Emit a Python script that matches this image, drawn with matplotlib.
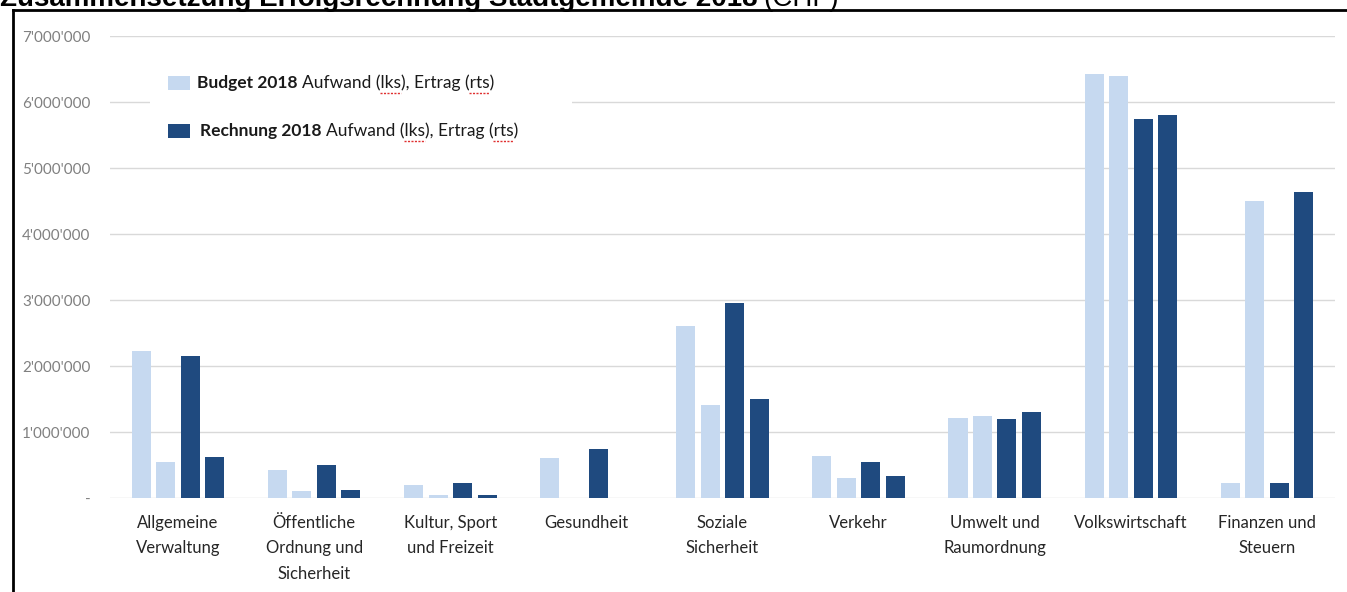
import numpy as np
import matplotlib
matplotlib.use("Agg")
from matplotlib import pyplot
from matplotlib.lines import Line2D
from matplotlib.patches import Rectangle

# categories and values (CHF)
categories = [
    "Allgemeine\nVerwaltung",
    "Öffentliche\nOrdnung und\nSicherheit",
    "Kultur, Sport\nund Freizeit",
    "Gesundheit",
    "Soziale\nSicherheit",
    "Verkehr",
    "Umwelt und\nRaumordnung",
    "Volkswirtschaft",
    "Finanzen und\nSteuern",
]
budget_aufwand = [2230000, 430000, 200000, 610000, 2600000, 640000, 1210000, 6430000, 220000]
budget_ertrag = [550000, 100000, 40000, 0, 1410000, 310000, 1250000, 6390000, 4500000]
rechnung_aufwand = [2150000, 500000, 230000, 750000, 2960000, 550000, 1190000, 5740000, 230000]
rechnung_ertrag = [620000, 120000, 40000, 0, 1500000, 330000, 1310000, 5810000, 4630000]

light = "#C6D9F0"
dark = "#1F4A7F"
W, H = 1347, 592

pyplot.rcParams["font.family"] = ["Lato", "DejaVu Sans"]
fig = pyplot.figure(figsize=(W / 100, H / 100), dpi=100)
ax = fig.add_axes([110 / W, 1 - 498 / H, (1335 - 110) / W, (498 - 36) / H])

x = np.arange(len(categories))
bw = 0.14
step = 0.18
series = [(budget_aufwand, light), (budget_ertrag, light),
          (rechnung_aufwand, dark), (rechnung_ertrag, dark)]
for i, (vals, col) in enumerate(series):
    ax.bar(x + (i - 1.5) * step, vals, width=bw, color=col, zorder=3)

ax.set_xlim(-0.5, len(categories) - 0.5)
ax.set_ylim(0, 7000000)
yt = np.arange(0, 7000001, 1000000)
ax.set_yticks(yt)
ax.set_yticklabels(["-" if v == 0 else f"{v:,.0f}".replace(",", "'") for v in yt],
                   color="#808080", fontsize=11)
ax.set_xticks(x)
ax.set_xticklabels(categories, fontsize=12, color="#262626", linespacing=1.75, va="top")
ax.tick_params(axis="both", length=0)
ax.tick_params(axis="y", pad=14)
ax.tick_params(axis="x", pad=12)
ax.grid(axis="y", color="#D9D9D9", linewidth=1, zorder=0)
for s in ax.spines.values():
    s.set_visible(False)

# legend box (white, covers gridline)
fig.patches.append(Rectangle((150 / W, 1 - 150 / H), 422 / W, 88 / H,
                             transform=fig.transFigure, facecolor="white",
                             edgecolor="none", zorder=5))

fig.canvas.draw()
rend = fig.canvas.get_renderer()
lfs = 12.5


def legend_row(ypix, color, bold, xstart):
    fig.patches.append(Rectangle((168 / W, 1 - (ypix + 7) / H), 22 / W, 14 / H,
                                 transform=fig.transFigure, facecolor=color,
                                 edgecolor="none", zorder=6))
    t1 = fig.text(xstart / W, 1 - ypix / H, bold, fontsize=lfs, fontweight="bold",
                  va="center", color="#1a1a1a", zorder=7)
    bb = t1.get_window_extent(rend)
    x2 = bb.x1 + 4
    rest = "Aufwand (lks), Ertrag (rts)"
    fig.text(x2 / W, 1 - ypix / H, rest, fontsize=lfs, va="center",
             color="#1a1a1a", zorder=7)
    # red spell-check underline under "lks" and "rts"
    for word in ["lks", "rts"]:
        i = rest.index(word)
        a = fig.text(0, 0, rest[:i], fontsize=lfs)
        b = fig.text(0, 0, rest[:i + 3], fontsize=lfs)
        xa = x2 + a.get_window_extent(rend).width
        xb = x2 + b.get_window_extent(rend).width
        a.remove()
        b.remove()
        yb = H - ypix - 10
        fig.lines.append(Line2D([xa / W, xb / W], [yb / H, yb / H],
                                transform=fig.transFigure, color="#E03030",
                                linewidth=1, linestyle=(0, (1.5, 1)), zorder=8))


legend_row(83, light, "Budget 2018", 197)
legend_row(131, dark, "Rechnung 2018", 200)

# title, cut off at the top of the picture as in the source
fig.text(0 / W, 1 - 6 / H, "Zusammensetzung Erfolgsrechnung Stadtgemeinde 2018",
         fontsize=20, fontweight="bold", family="Liberation Sans", va="baseline")
fig.canvas.draw()
tt = fig.texts[-1].get_window_extent(rend)
fig.text((tt.x1 + 6) / W, 1 - 6 / H, "(CHF)", fontsize=20, family="Liberation Sans",
         va="baseline")

# black frame
fig.lines.append(Line2D([13 / W, 1], [1 - 10 / H, 1 - 10 / H], transform=fig.transFigure,
                        color="black", linewidth=2))
fig.lines.append(Line2D([13 / W, 13 / W], [0, 1 - 10 / H], transform=fig.transFigure,
                        color="black", linewidth=2))

fig.savefig("out.png", dpi=100)
pyplot.close(fig)
